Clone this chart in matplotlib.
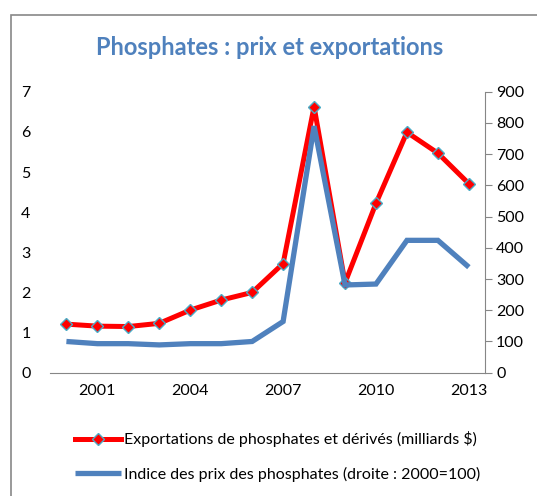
import matplotlib.pyplot as plt
from matplotlib.patches import Rectangle

years = [2000, 2001, 2002, 2003, 2004, 2005, 2006, 2007, 2008, 2009, 2010, 2011, 2012, 2013]
exports = [1.21, 1.16, 1.15, 1.23, 1.56, 1.81, 2.0, 2.72, 6.63, 2.24, 4.22, 5.99, 5.47, 4.71]
price_index = [100, 93, 93, 89, 93, 93, 100, 164, 790, 281, 284, 424, 424, 338]
xticks = [2001, 2004, 2007, 2010, 2013]
label_exp = 'Exportations de phosphates et dérivés (milliards $)'
label_idx = 'Indice des prix des phosphates (droite : 2000=100)'

plt.rcParams['font.family'] = ['Lato', 'DejaVu Sans']

fig = plt.figure(figsize=(5.37, 4.96), dpi=100)
ax = fig.add_axes([0.0931, 0.2486, 0.81, 0.5664])
ax2 = ax.twinx()

red = '#FF0000'
blue = '#4F81BD'
grey = '#868686'

l1, = ax.plot(years, exports, color=red, lw=3.6, marker='D', markersize=6.5,
              markerfacecolor=red, markeredgecolor='#4BACC6', markeredgewidth=1.0,
              label=label_exp, zorder=3)
l2, = ax2.plot(years, price_index, color=blue, lw=3.8, label=label_idx,
               solid_capstyle='butt', solid_joinstyle='miter')

ax.set_xlim(1999.47, 2013.52)
ax.set_ylim(0, 7)
ax2.set_ylim(0, 900)
ax.set_xticks(xticks)
ax.set_yticks(range(0, 8))
ax2.set_yticks(range(0, 1000, 100))

for s in ['top', 'left', 'right']:
    ax.spines[s].set_visible(False)
for s in ['top', 'left', 'bottom']:
    ax2.spines[s].set_visible(False)
ax.spines['bottom'].set_color(grey)
ax2.spines['right'].set_color(grey)
ax.tick_params(axis='x', length=0, pad=8, labelsize=11.5)
ax.tick_params(axis='y', length=0, pad=14, labelsize=11.5)
ax2.tick_params(axis='y', length=5, color=grey, pad=3, labelsize=11.5)

fig.text(0.503, 0.905, 'Phosphates : prix et exportations', ha='center', va='center',
         fontsize=17, fontweight='bold', color='#4F81BD')

fig.legend(handles=[l1, l2], loc='upper left', bbox_to_anchor=(0.128, 0.143),
           frameon=False, fontsize=11.5, handlelength=2.9, handletextpad=0.15,
           labelspacing=1.2, borderaxespad=0)

fig.patches.append(Rectangle((11 / 537, -0.1), 1.2, 1 - 15 / 496 + 0.1,
                             transform=fig.transFigure, fill=False,
                             edgecolor='#888888', lw=1.2))

fig.savefig('out.png', dpi=100)
